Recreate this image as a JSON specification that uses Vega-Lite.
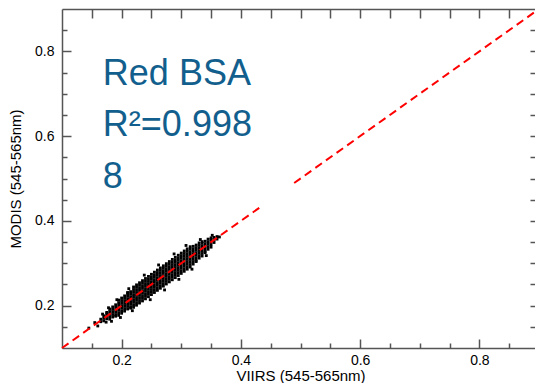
{
  "$schema": "https://vega.github.io/schema/vega-lite/v6.json",
  "autosize": "none",
  "width": 477,
  "height": 339,
  "padding": {"left": 62, "top": 9, "right": 0, "bottom": 35},
  "background": "white",
  "config": {
    "view": {"stroke": null},
    "axis": {
      "labelFont": "Liberation Sans",
      "titleFont": "Liberation Sans",
      "labelFontSize": 14,
      "titleFontSize": 15,
      "titleFontWeight": "normal",
      "labelColor": "black",
      "titleColor": "black",
      "domainColor": "#555555",
      "domainWidth": 1.5,
      "grid": false
    }
  },
  "datasets": {
    "pts": [
      {"x":0.165,"y":0.162},{"x":0.165,"y":0.168},
      {"x":0.17,"y":0.164},{"x":0.17,"y":0.17},{"x":0.17,"y":0.176},
      {"x":0.175,"y":0.169},{"x":0.175,"y":0.175},{"x":0.175,"y":0.181},{"x":0.175,"y":0.184},
      {"x":0.18,"y":0.168},{"x":0.18,"y":0.174},{"x":0.18,"y":0.18},{"x":0.18,"y":0.186},{"x":0.18,"y":0.192},
      {"x":0.185,"y":0.173},{"x":0.185,"y":0.179},{"x":0.185,"y":0.185},{"x":0.185,"y":0.191},{"x":0.185,"y":0.197},
      {"x":0.19,"y":0.175},{"x":0.19,"y":0.178},{"x":0.19,"y":0.184},{"x":0.19,"y":0.19},{"x":0.19,"y":0.196},{"x":0.19,"y":0.202},
      {"x":0.195,"y":0.177},{"x":0.195,"y":0.183},{"x":0.195,"y":0.189},{"x":0.195,"y":0.195},{"x":0.195,"y":0.201},{"x":0.195,"y":0.207},{"x":0.195,"y":0.213},
      {"x":0.2,"y":0.182},{"x":0.2,"y":0.188},{"x":0.2,"y":0.194},{"x":0.2,"y":0.2},{"x":0.2,"y":0.206},{"x":0.2,"y":0.212},{"x":0.2,"y":0.218},
      {"x":0.205,"y":0.187},{"x":0.205,"y":0.193},{"x":0.205,"y":0.199},{"x":0.205,"y":0.205},{"x":0.205,"y":0.211},{"x":0.205,"y":0.217},{"x":0.205,"y":0.223},
      {"x":0.21,"y":0.192},{"x":0.21,"y":0.198},{"x":0.21,"y":0.204},{"x":0.21,"y":0.21},{"x":0.21,"y":0.216},{"x":0.21,"y":0.222},{"x":0.21,"y":0.228},{"x":0.21,"y":0.231},
      {"x":0.215,"y":0.194},{"x":0.215,"y":0.197},{"x":0.215,"y":0.203},{"x":0.215,"y":0.209},{"x":0.215,"y":0.215},{"x":0.215,"y":0.221},{"x":0.215,"y":0.227},{"x":0.215,"y":0.233},
      {"x":0.22,"y":0.196},{"x":0.22,"y":0.202},{"x":0.22,"y":0.208},{"x":0.22,"y":0.214},{"x":0.22,"y":0.22},{"x":0.22,"y":0.226},{"x":0.22,"y":0.232},{"x":0.22,"y":0.238},{"x":0.22,"y":0.244},
      {"x":0.225,"y":0.201},{"x":0.225,"y":0.207},{"x":0.225,"y":0.213},{"x":0.225,"y":0.219},{"x":0.225,"y":0.225},{"x":0.225,"y":0.231},{"x":0.225,"y":0.237},{"x":0.225,"y":0.243},{"x":0.225,"y":0.249},
      {"x":0.23,"y":0.206},{"x":0.23,"y":0.212},{"x":0.23,"y":0.218},{"x":0.23,"y":0.224},{"x":0.23,"y":0.23},{"x":0.23,"y":0.236},{"x":0.23,"y":0.242},{"x":0.23,"y":0.248},{"x":0.23,"y":0.254},
      {"x":0.235,"y":0.211},{"x":0.235,"y":0.217},{"x":0.235,"y":0.223},{"x":0.235,"y":0.229},{"x":0.235,"y":0.235},{"x":0.235,"y":0.241},{"x":0.235,"y":0.247},{"x":0.235,"y":0.253},{"x":0.235,"y":0.259},
      {"x":0.24,"y":0.216},{"x":0.24,"y":0.222},{"x":0.24,"y":0.228},{"x":0.24,"y":0.234},{"x":0.24,"y":0.24},{"x":0.24,"y":0.246},{"x":0.24,"y":0.252},{"x":0.24,"y":0.258},{"x":0.24,"y":0.264},
      {"x":0.245,"y":0.221},{"x":0.245,"y":0.227},{"x":0.245,"y":0.233},{"x":0.245,"y":0.239},{"x":0.245,"y":0.245},{"x":0.245,"y":0.251},{"x":0.245,"y":0.257},{"x":0.245,"y":0.263},{"x":0.245,"y":0.269},
      {"x":0.25,"y":0.226},{"x":0.25,"y":0.232},{"x":0.25,"y":0.238},{"x":0.25,"y":0.244},{"x":0.25,"y":0.25},{"x":0.25,"y":0.256},{"x":0.25,"y":0.262},{"x":0.25,"y":0.268},{"x":0.25,"y":0.274},
      {"x":0.255,"y":0.231},{"x":0.255,"y":0.237},{"x":0.255,"y":0.243},{"x":0.255,"y":0.249},{"x":0.255,"y":0.255},{"x":0.255,"y":0.261},{"x":0.255,"y":0.267},{"x":0.255,"y":0.273},{"x":0.255,"y":0.279},
      {"x":0.26,"y":0.236},{"x":0.26,"y":0.242},{"x":0.26,"y":0.248},{"x":0.26,"y":0.254},{"x":0.26,"y":0.26},{"x":0.26,"y":0.266},{"x":0.26,"y":0.272},{"x":0.26,"y":0.278},{"x":0.26,"y":0.284},
      {"x":0.265,"y":0.241},{"x":0.265,"y":0.247},{"x":0.265,"y":0.253},{"x":0.265,"y":0.259},{"x":0.265,"y":0.265},{"x":0.265,"y":0.271},{"x":0.265,"y":0.277},{"x":0.265,"y":0.283},{"x":0.265,"y":0.289},
      {"x":0.27,"y":0.246},{"x":0.27,"y":0.252},{"x":0.27,"y":0.258},{"x":0.27,"y":0.264},{"x":0.27,"y":0.27},{"x":0.27,"y":0.276},{"x":0.27,"y":0.282},{"x":0.27,"y":0.288},{"x":0.27,"y":0.294},
      {"x":0.275,"y":0.251},{"x":0.275,"y":0.257},{"x":0.275,"y":0.263},{"x":0.275,"y":0.269},{"x":0.275,"y":0.275},{"x":0.275,"y":0.281},{"x":0.275,"y":0.287},{"x":0.275,"y":0.293},{"x":0.275,"y":0.299},
      {"x":0.28,"y":0.256},{"x":0.28,"y":0.262},{"x":0.28,"y":0.268},{"x":0.28,"y":0.274},{"x":0.28,"y":0.28},{"x":0.28,"y":0.286},{"x":0.28,"y":0.292},{"x":0.28,"y":0.298},{"x":0.28,"y":0.304},
      {"x":0.285,"y":0.261},{"x":0.285,"y":0.267},{"x":0.285,"y":0.273},{"x":0.285,"y":0.279},{"x":0.285,"y":0.285},{"x":0.285,"y":0.291},{"x":0.285,"y":0.297},{"x":0.285,"y":0.303},{"x":0.285,"y":0.309},
      {"x":0.29,"y":0.266},{"x":0.29,"y":0.272},{"x":0.29,"y":0.278},{"x":0.29,"y":0.284},{"x":0.29,"y":0.29},{"x":0.29,"y":0.296},{"x":0.29,"y":0.302},{"x":0.29,"y":0.308},{"x":0.29,"y":0.314},
      {"x":0.295,"y":0.271},{"x":0.295,"y":0.277},{"x":0.295,"y":0.283},{"x":0.295,"y":0.289},{"x":0.295,"y":0.295},{"x":0.295,"y":0.301},{"x":0.295,"y":0.307},{"x":0.295,"y":0.313},{"x":0.295,"y":0.319},
      {"x":0.3,"y":0.276},{"x":0.3,"y":0.282},{"x":0.3,"y":0.288},{"x":0.3,"y":0.294},{"x":0.3,"y":0.3},{"x":0.3,"y":0.306},{"x":0.3,"y":0.312},{"x":0.3,"y":0.318},{"x":0.3,"y":0.324},
      {"x":0.305,"y":0.281},{"x":0.305,"y":0.287},{"x":0.305,"y":0.293},{"x":0.305,"y":0.299},{"x":0.305,"y":0.305},{"x":0.305,"y":0.311},{"x":0.305,"y":0.317},{"x":0.305,"y":0.323},{"x":0.305,"y":0.329},
      {"x":0.31,"y":0.286},{"x":0.31,"y":0.292},{"x":0.31,"y":0.298},{"x":0.31,"y":0.304},{"x":0.31,"y":0.31},{"x":0.31,"y":0.316},{"x":0.31,"y":0.322},{"x":0.31,"y":0.328},{"x":0.31,"y":0.334},
      {"x":0.315,"y":0.291},{"x":0.315,"y":0.297},{"x":0.315,"y":0.303},{"x":0.315,"y":0.309},{"x":0.315,"y":0.315},{"x":0.315,"y":0.321},{"x":0.315,"y":0.327},{"x":0.315,"y":0.333},{"x":0.315,"y":0.339},
      {"x":0.32,"y":0.298},{"x":0.32,"y":0.304},{"x":0.32,"y":0.31},{"x":0.32,"y":0.316},{"x":0.32,"y":0.322},{"x":0.32,"y":0.328},{"x":0.32,"y":0.334},{"x":0.32,"y":0.34},
      {"x":0.325,"y":0.304},{"x":0.325,"y":0.307},{"x":0.325,"y":0.313},{"x":0.325,"y":0.319},{"x":0.325,"y":0.325},{"x":0.325,"y":0.331},{"x":0.325,"y":0.337},{"x":0.325,"y":0.343},
      {"x":0.33,"y":0.312},{"x":0.33,"y":0.318},{"x":0.33,"y":0.324},{"x":0.33,"y":0.33},{"x":0.33,"y":0.336},{"x":0.33,"y":0.342},{"x":0.33,"y":0.348},
      {"x":0.335,"y":0.317},{"x":0.335,"y":0.323},{"x":0.335,"y":0.329},{"x":0.335,"y":0.335},{"x":0.335,"y":0.341},{"x":0.335,"y":0.347},{"x":0.335,"y":0.351},
      {"x":0.34,"y":0.325},{"x":0.34,"y":0.328},{"x":0.34,"y":0.334},{"x":0.34,"y":0.34},{"x":0.34,"y":0.346},{"x":0.34,"y":0.352},
      {"x":0.345,"y":0.333},{"x":0.345,"y":0.339},{"x":0.345,"y":0.345},{"x":0.345,"y":0.351},{"x":0.345,"y":0.357},
      {"x":0.35,"y":0.338},{"x":0.35,"y":0.344},{"x":0.35,"y":0.35},{"x":0.35,"y":0.356},{"x":0.35,"y":0.36},
      {"x":0.355,"y":0.349},{"x":0.355,"y":0.355},{"x":0.355,"y":0.361},
      {"x":0.36,"y":0.357},{"x":0.36,"y":0.363},
      {"x":0.155,"y":0.16},{"x":0.16,"y":0.152},{"x":0.168,"y":0.18},{"x":0.174,"y":0.161},{"x":0.178,"y":0.195},
      {"x":0.183,"y":0.163},{"x":0.192,"y":0.214},{"x":0.198,"y":0.172},{"x":0.212,"y":0.24},{"x":0.218,"y":0.188},
      {"x":0.238,"y":0.272},{"x":0.248,"y":0.214},{"x":0.262,"y":0.296},{"x":0.272,"y":0.237},{"x":0.288,"y":0.322},
      {"x":0.296,"y":0.262},{"x":0.308,"y":0.342},{"x":0.318,"y":0.286},{"x":0.332,"y":0.356},{"x":0.342,"y":0.318},
      {"x":0.352,"y":0.366},{"x":0.364,"y":0.362},{"x":0.145,"y":0.147}
    ],
    "line": [
      {"x":0.1,"y":0.1,"seg":"a"},{"x":0.4336,"y":0.4336,"seg":"a"},
      {"x":0.4894,"y":0.4894,"seg":"b"},{"x":0.9,"y":0.9,"seg":"b"}
    ],
    "labels": [
      {"x":0.1685,"y":0.7198,"text":"Red BSA"},
      {"x":0.1685,"y":0.5993,"text":"R²=0.998"},
      {"x":0.1685,"y":0.4774,"text":"8"}
    ]
  },
  "resolve": {"axis": {"x": "independent", "y": "independent"}},
  "layer": [
    {
      "data": {"name": "pts"},
      "mark": {"type": "square", "size": 8, "color": "black", "opacity": 1},
      "encoding": {
        "x": {"field": "x", "type": "quantitative",
          "scale": {"domain": [0.1, 0.9], "nice": false, "zero": false},
          "axis": {"orient": "bottom", "title": "VIIRS (545-565nm)",
            "values": [0.2,0.4,0.6,0.8], "format": ".1f",
            "tickSize": -9, "tickColor": "#555555", "tickWidth": 1.5,
            "labelPadding": 14, "titlePadding": 1}},
        "y": {"field": "y", "type": "quantitative",
          "scale": {"domain": [0.1, 0.9], "nice": false, "zero": false},
          "axis": {"orient": "left", "title": "MODIS (545-565nm)",
            "values": [0.2,0.4,0.6,0.8], "format": ".1f",
            "tickSize": -9, "tickColor": "#555555", "tickWidth": 1.5,
            "labelPadding": 17, "titlePadding": 11}}
      }
    },
    {
      "data": {"name": "line"},
      "mark": {"type": "line", "color": "#ff0000", "strokeWidth": 2, "strokeDash": [8, 5]},
      "encoding": {
        "detail": {"field": "seg"},
        "x": {"field": "x", "type": "quantitative",
          "axis": {"orient": "top", "title": null, "labels": false,
            "values": [0.15,0.2,0.25,0.3,0.35,0.4,0.45,0.5,0.55,0.6,0.65,0.7,0.75,0.8,0.85],
            "tickSize": -9, "tickColor": "#555555", "tickWidth": 1.5,
            "encode": {"ticks": {"update": {"y2": {"signal": "abs(datum.value*5-round(datum.value*5))<0.01 ? 9 : 5"}}}}}},
        "y": {"field": "y", "type": "quantitative",
          "axis": {"orient": "right", "title": null, "labels": false,
            "values": [0.15,0.2,0.25,0.3,0.35,0.4,0.45,0.5,0.55,0.6,0.65,0.7,0.75,0.8,0.85],
            "tickSize": -9, "tickColor": "#555555", "tickWidth": 1.5,
            "encode": {"ticks": {"update": {"x2": {"signal": "abs(datum.value*5-round(datum.value*5))<0.01 ? -9 : -5"}}}}}}
      }
    },
    {
      "data": {"name": "labels"},
      "mark": {"type": "text", "align": "left", "baseline": "alphabetic", "font": "Liberation Sans", "fontSize": 36, "color": "#125f8e"},
      "encoding": {
        "x": {"field": "x", "type": "quantitative",
          "axis": {"orient": "bottom", "title": null, "labels": false, "domain": false,
            "values": [0.15,0.25,0.3,0.35,0.45,0.5,0.55,0.65,0.7,0.75,0.85],
            "tickSize": -5, "tickColor": "#555555", "tickWidth": 1.5}},
        "y": {"field": "y", "type": "quantitative",
          "axis": {"orient": "left", "title": null, "labels": false, "domain": false,
            "values": [0.15,0.25,0.3,0.35,0.45,0.5,0.55,0.65,0.7,0.75,0.85],
            "tickSize": -5, "tickColor": "#555555", "tickWidth": 1.5}},
        "text": {"field": "text"}
      }
    }
  ]
}
